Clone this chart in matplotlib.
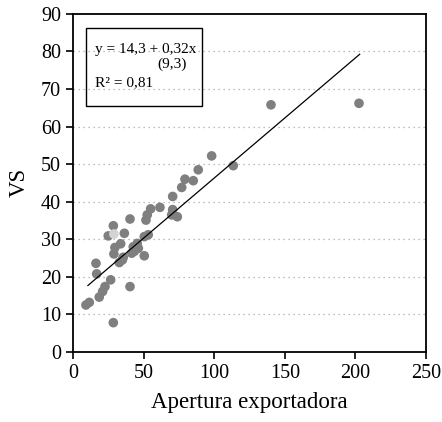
import numpy as np
import matplotlib
matplotlib.use("Agg")
from matplotlib import pyplot as plt
from matplotlib.patches import Rectangle

plt.rcParams['font.family'] = ['Liberation Serif', 'DejaVu Serif']

# apertura exportadora (x) vs VS (y)
apertura = [9.2, 11.6, 18.6, 21.0, 22.7, 26.7, 28.6, 16.8, 16.3, 40.4,
            32.8, 35.6, 29.0, 29.7, 33.8, 25.0, 28.6, 36.4, 40.4, 41.6,
            42.7, 45.5, 46.3, 43.5, 50.5, 50.5, 53.3, 51.7, 52.6, 55.0,
            61.6, 70.6, 70.6, 69.9, 73.9, 77.0, 79.3, 85.2, 88.7, 98.2,
            113.5, 140.2, 202.5, 35.0]
vs = [12.5, 13.2, 14.6, 16.1, 17.4, 19.2, 7.8, 20.8, 23.6, 17.4,
      23.8, 25.2, 26.1, 27.8, 28.8, 30.9, 33.6, 31.6, 35.4, 26.3,
      28.0, 28.9, 27.6, 26.8, 25.6, 30.7, 31.2, 35.1, 36.5, 38.1,
      38.5, 41.4, 37.9, 36.5, 36.0, 43.8, 46.0, 45.6, 48.5, 52.2,
      49.6, 65.8, 66.2, 24.5]
apertura_claro = [29.0]
vs_claro = [31.4]

a, b = 14.3, 0.32
x_line = np.array([10.6, 203.0])

fig = plt.figure(figsize=(4.42, 4.22), dpi=100)
ax = fig.add_axes([0.165, 0.166, 0.799, 0.801])

for yv in range(10, 90, 10):
    ax.axhline(yv, color='#a8a8a8', lw=0.9, ls=(0, (1, 3)), zorder=0)

ax.scatter(apertura, vs, s=48, color='#7f7f7f', edgecolors='none', zorder=2)
ax.scatter(apertura_claro, vs_claro, s=48, color='#d3d3d3', edgecolors='none', zorder=3)
ax.plot(x_line, a + b * x_line, color='black', lw=0.9, zorder=4)

ax.set_xlim(0, 250)
ax.set_ylim(0, 90)
ax.set_xticks(range(0, 251, 50))
ax.set_yticks(range(0, 91, 10))
ax.tick_params(direction='out', length=5, width=1.2, labelsize=14.5, colors='black')
for s in ax.spines.values():
    s.set_linewidth(1.3)

ax.set_xlabel('Apertura exportadora', fontsize=16.5, labelpad=7)
ax.set_ylabel('VS', fontsize=16.5, labelpad=8)

# cuadro con la ecuacion
ax.add_patch(Rectangle((9.2, 65.4), 82.2, 20.8, fill=False, lw=1.0,
                       edgecolor='black', zorder=5))
ax.text(15.5, 80.4, 'y = 14,3 + 0,32x', fontsize=11, va='center', zorder=6)
ax.text(59.5, 76.6, '(9,3)', fontsize=11, va='center', zorder=6)
ax.text(15.5, 71.6, 'R² = 0,81', fontsize=11, va='center', zorder=6)

fig.savefig('out.png', dpi=100)
